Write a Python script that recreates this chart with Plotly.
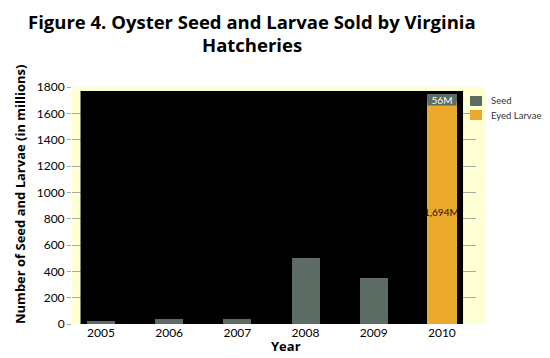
import plotly.graph_objects as go

years = ["2005", "2006", "2007", "2008", "2009", "2010"]
seed = [25, 35, 35, 500, 350, 56]
larvae = [0, 0, 0, 0, 0, 1694]
y_ticks = [0, 200, 400, 600, 800, 1000, 1200, 1400, 1600, 1800]

SEED_C = "#5C6B63"
LARV_C = "#EBA92B"
YELLOW = "#FFFFD4"
FONT = "Lato"
TFONT = "Open Sans"

# plot area in figure pixels
L, R, T, B = 64, 468, 79, 316
W, H = R - L, B - T


def px(fx):
    return (fx - L) / W


def py(fy):
    return (B - fy) / H


fig = go.Figure()
fig.add_trace(go.Bar(x=years, y=larvae, name="Eyed Larvae", marker_color=LARV_C,
                     marker_line_width=0, width=[0.44] * 6, hoverinfo="skip"))
fig.add_trace(go.Bar(x=years, y=seed, name="Seed", marker_color=SEED_C,
                     marker_line_width=0, width=[0.41] * 5 + [0.44], hoverinfo="skip"))

total_2010 = seed[-1] + larvae[-1]
# black back wall and yellow side wall
fig.add_shape(type="rect", xref="x", yref="y", x0=-0.3, x1=5.31, y0=0, y1=1770,
              fillcolor="black", line_width=0, layer="between")
fig.add_shape(type="rect", xref="paper", yref="paper", x0=1.0, x1=px(477), y0=0, y1=1,
              fillcolor=YELLOW, line_width=0, layer="below")

# value labels
fig.add_annotation(x=5, y=larvae[-1] / 2, xref="x", yref="y", text=f"{larvae[-1]:,}M",
                   showarrow=False, font=dict(family=FONT, size=10, color="#111"))
fig.add_annotation(x=5, y=total_2010, xref="x", yref="y", yanchor="top",
                   text=f"{seed[-1]}M", showarrow=False, bgcolor=SEED_C, width=28, height=10,
                   borderpad=0, font=dict(family=FONT, size=10, color="white"))

# manual legend
legend_items = [("Seed", SEED_C, 93), ("Eyed Larvae", LARV_C, 107)]
for name, col, cy in legend_items:
    fig.add_shape(type="rect", xref="paper", yref="paper", x0=px(462), x1=px(474),
                  y0=py(cy + 5), y1=py(cy - 5), fillcolor=col, line_width=0, layer="above")
    fig.add_annotation(x=px(481), y=py(cy), xref="paper", yref="paper", xanchor="left",
                       yanchor="middle", text=name, showarrow=False,
                       font=dict(family=FONT, size=9.5, color="#333"))

# titles
title_lines = [("Figure 4. Oyster Seed and Larvae Sold by Virginia", 13.5),
               ("Hatcheries", 36)]
for line, cy in title_lines:
    fig.add_annotation(x=px(244), y=py(cy), xref="paper", yref="paper", xanchor="center",
                       yanchor="middle", text=f"<b>{line}</b>", showarrow=False,
                       font=dict(family=TFONT, size=18.5, color="black"))
fig.add_annotation(x=px(12), y=py(187), xref="paper", yref="paper", xanchor="center",
                   yanchor="middle", text="<b>Number of Seed and Larvae (in millions)</b>",
                   textangle=-90, showarrow=False,
                   font=dict(family=TFONT, size=13, color="black"))
fig.add_annotation(x=px(278), y=py(338), xref="paper", yref="paper", xanchor="center",
                   yanchor="middle", text="<b>Year</b>", showarrow=False,
                   font=dict(family=TFONT, size=13, color="black"))

fig.update_layout(
    width=550, height=358,
    margin=dict(l=L, r=550 - R, t=T, b=358 - B),
    paper_bgcolor="white", plot_bgcolor=YELLOW,
    barmode="stack", bargap=0,
    showlegend=False,
    font=dict(family=FONT, color="black"),
)
fig.update_xaxes(range=[-0.425, 5.5], showgrid=False, zeroline=False, showline=False,
                 ticks="", tickfont=dict(family=FONT, size=12, color="black"))
fig.update_yaxes(range=[0, 1800], tickvals=y_ticks, showgrid=True, gridcolor="#A8A8A0",
                 gridwidth=1, zeroline=False, showline=False, ticks="outside", ticklen=4,
                 tickcolor="#A8A8A0", tickfont=dict(family=FONT, size=12, color="black"))

fig.write_html("out.html")
